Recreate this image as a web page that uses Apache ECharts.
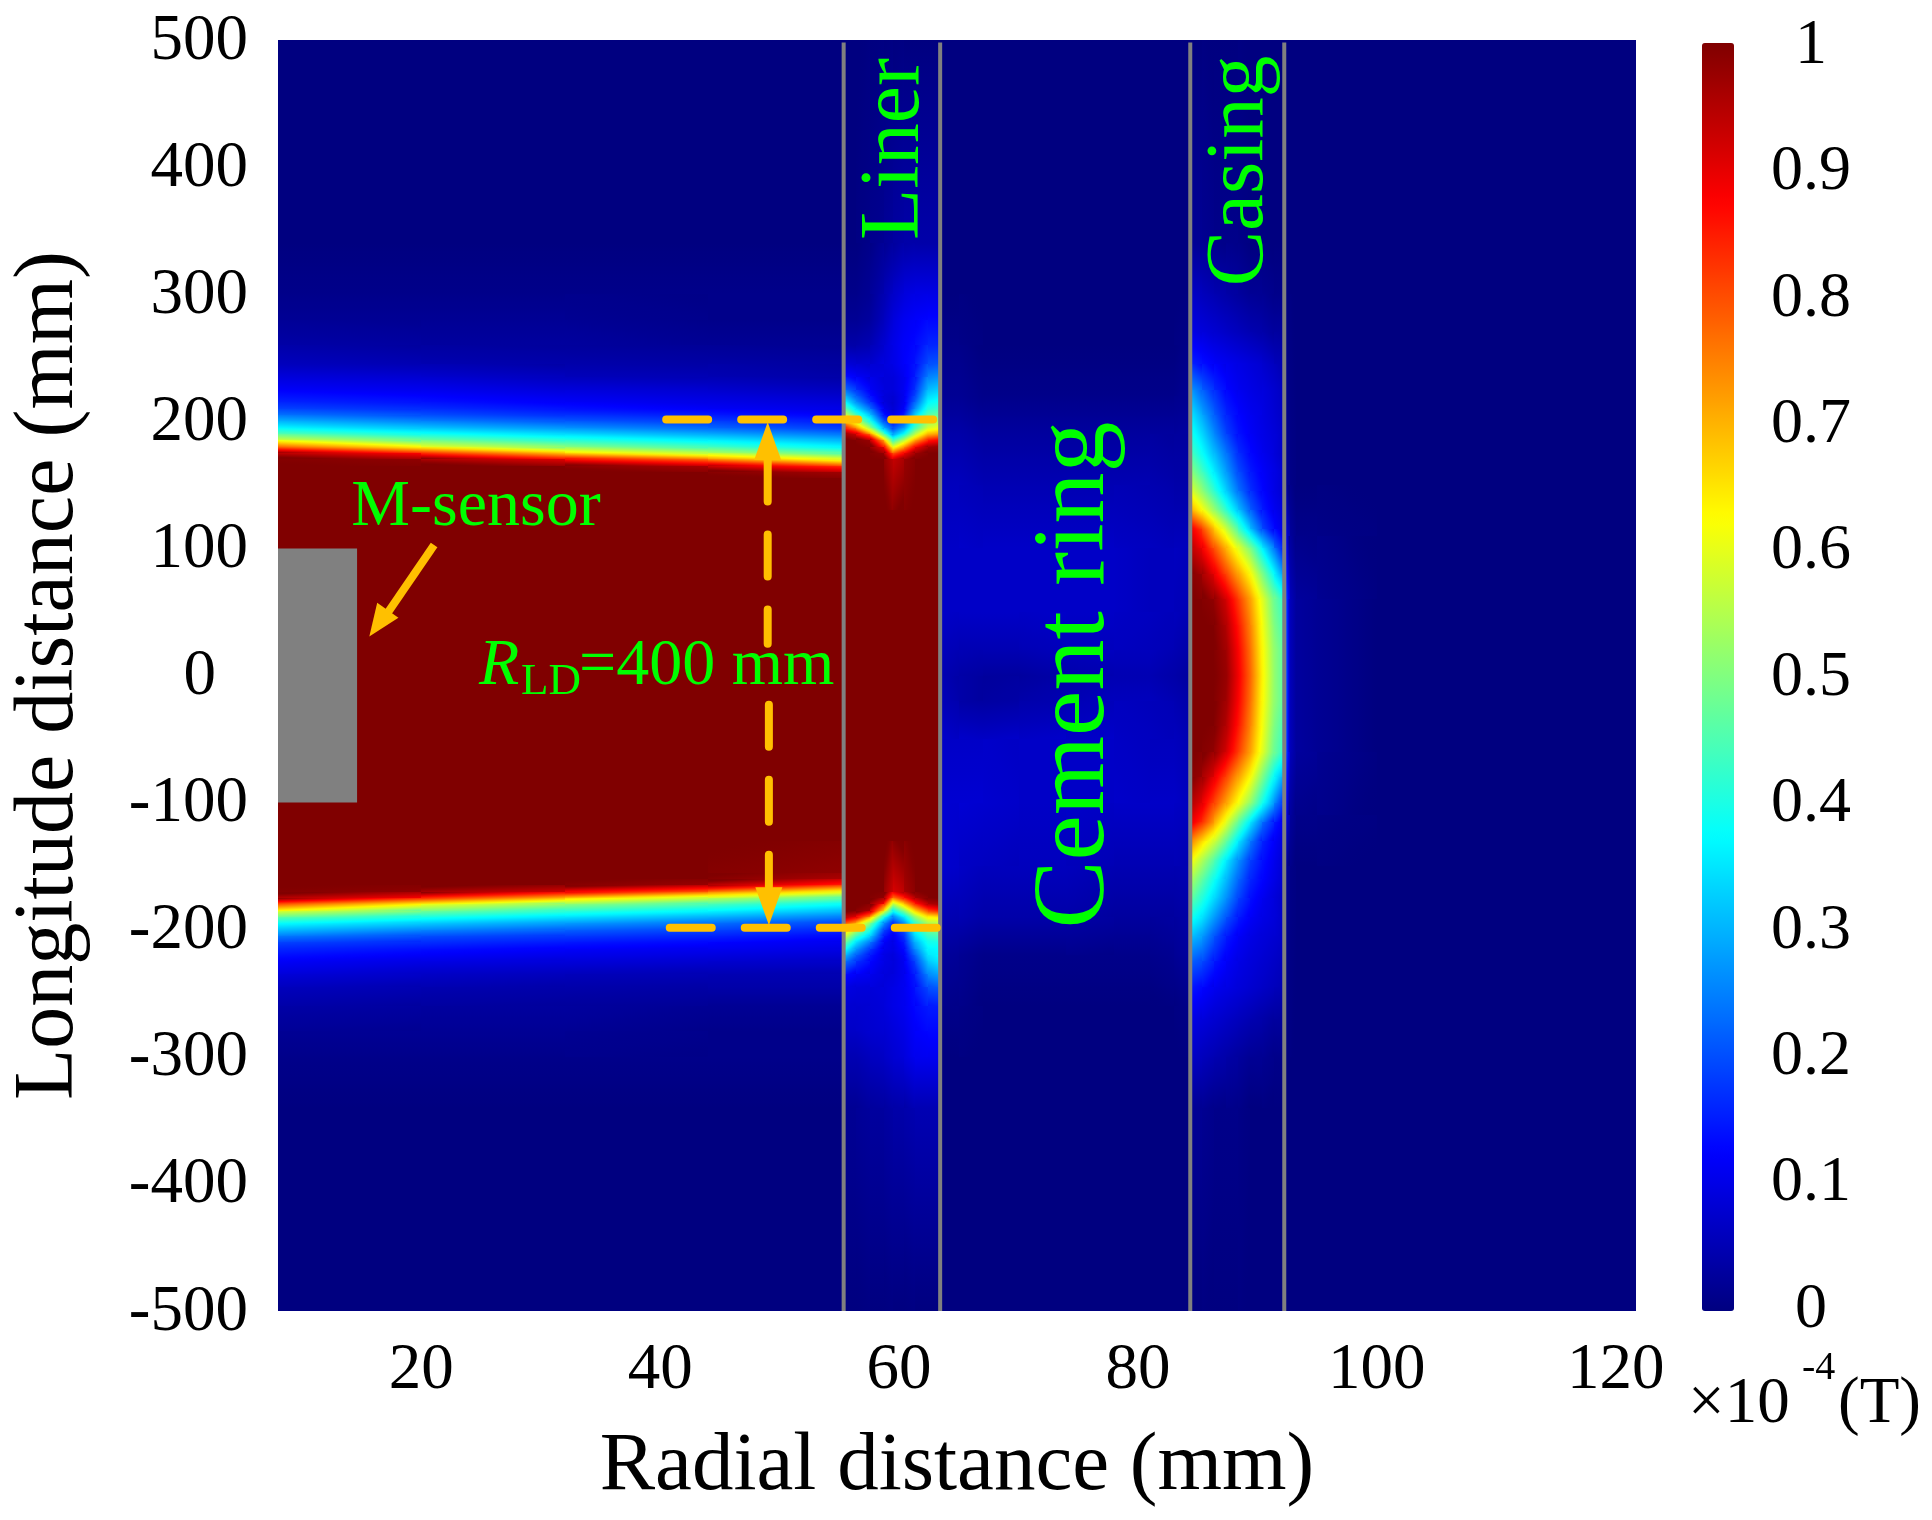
<!DOCTYPE html>
<html>
<head>
<meta charset="utf-8">
<title>Magnetic field</title>
<script src="https://cdn.jsdelivr.net/npm/echarts@6/dist/echarts.min.js"></script>
<style>
  html, body { margin: 0; padding: 0; background: #fff; }
  #chart { width: 1932px; height: 1520px; }
</style>
</head>
<body>
<div id="chart"></div>
<script>
// tick labels
const radialTicks = [20, 40, 60, 80, 100, 120];
const jet = ['#000080', '#0000ff', '#0080ff', '#00ffff', '#80ff80', '#ffff00', '#ff8000', '#ff0000', '#800000'];

// field values (percent of 1e-4 T), one table per material zone
const wellboreX = [8, 20, 32, 44, 55.36];
const wellboreY = [500, 340, 300, 280, 260, 245, 235, 225, 215, 210, 205, 200, 195, 190, 185, 180, 175, 170, 165, 160, 155, 130, -130, -155, -160, -165, -170, -175, -180, -185, -190, -195, -200, -205, -210, -215, -225, -235, -245, -260, -280, -300, -340, -500];
const wellboreField = [
  [0, 0, 0, 0, 0],
  [0, 0, 0, 0, 0],
  [1, 1, 1, 1, 1],
  [2, 2, 2, 1, 1],
  [4, 3, 3, 2, 2],
  [6, 5, 4, 4, 3],
  [9, 8, 6, 5, 4],
  [12, 11, 9, 8, 6],
  [16, 14, 12, 10, 9],
  [19, 17, 14, 12, 10],
  [24, 20, 17, 15, 12],
  [30, 25, 21, 18, 15],
  [37, 32, 27, 23, 18],
  [46, 39, 34, 29, 24],
  [58, 48, 41, 36, 30],
  [80, 61, 51, 44, 37],
  [96, 85, 66, 55, 46],
  [100, 98, 88, 74, 58],
  [100, 100, 100, 95, 80],
  [100, 100, 100, 100, 96],
  [100, 100, 100, 100, 100],
  [100, 100, 100, 100, 100],
  [100, 100, 100, 100, 100],
  [100, 100, 100, 100, 98],
  [100, 100, 100, 100, 95],
  [100, 100, 100, 97, 82],
  [100, 98, 90, 76, 60],
  [97, 86, 68, 56, 47],
  [82, 62, 52, 45, 38],
  [60, 49, 42, 37, 31],
  [47, 40, 35, 30, 25],
  [38, 33, 28, 24, 19],
  [31, 26, 22, 19, 16],
  [25, 20, 18, 16, 13],
  [19, 17, 15, 13, 11],
  [16, 14, 12, 11, 10],
  [12, 10, 9, 8, 7],
  [9, 7, 6, 5, 5],
  [6, 5, 4, 4, 4],
  [4, 3, 3, 2, 2],
  [2, 2, 2, 1, 1],
  [1, 1, 1, 1, 1],
  [0, 0, 0, 0, 0],
  [0, 0, 0, 0, 0]
];

const linerX = [55.36, 56.4, 57.6, 58.7, 59.5, 60.4, 61.3, 62.4, 63.44];
const linerY = [500, 340, 300, 280, 260, 245, 235, 225, 220, 215, 210, 205, 200, 195, 190, 185, 180, 175, 170, 130, -130, -170, -175, -180, -185, -190, -195, -200, -205, -210, -215, -220, -225, -235, -245, -260, -280, -300, -340, -500];
const linerField = [
  [0, 0, 0, 0, 0, 0, 0, 0, 0],
  [0, 0, 1, 2, 3, 4, 4, 4, 4],
  [1, 1, 2, 5, 7, 9, 10, 10, 10],
  [2, 2, 3, 6, 9, 11, 12, 13, 13],
  [4, 4, 5, 8, 10, 12, 13, 16, 16],
  [9, 8, 8, 9, 10, 12, 14, 20, 21],
  [14, 12, 10, 9, 9, 11, 15, 25, 27],
  [24, 18, 12, 9, 9, 11, 17, 31, 33],
  [31, 22, 14, 9, 8, 11, 19, 34, 36],
  [38, 27, 17, 9, 8, 11, 22, 37, 39],
  [48, 35, 24, 11, 8, 12, 27, 41, 43],
  [60, 44, 32, 14, 10, 15, 33, 46, 48],
  [72, 56, 40, 20, 14, 20, 38, 52, 54],
  [85, 75, 52, 30, 20, 28, 44, 58, 62],
  [98, 92, 75, 44, 28, 38, 55, 70, 72],
  [100, 100, 97, 68, 42, 55, 70, 84, 88],
  [100, 100, 100, 88, 60, 72, 88, 97, 98],
  [100, 100, 100, 98, 78, 88, 97, 100, 100],
  [100, 100, 100, 100, 92, 97, 100, 100, 100],
  [100, 100, 100, 100, 100, 100, 100, 100, 100],
  [100, 100, 100, 100, 100, 100, 100, 100, 100],
  [100, 100, 100, 100, 90, 95, 100, 100, 100],
  [100, 100, 100, 98, 75, 85, 95, 100, 100],
  [100, 100, 100, 85, 55, 68, 84, 95, 97],
  [100, 100, 95, 62, 37, 50, 66, 80, 85],
  [95, 90, 72, 38, 26, 35, 52, 64, 65],
  [82, 72, 50, 27, 17, 27, 42, 54, 56],
  [70, 55, 40, 19, 13, 20, 38, 48, 50],
  [60, 44, 33, 15, 11, 17, 34, 43, 45],
  [50, 35, 25, 12, 10, 15, 30, 39, 40],
  [40, 28, 18, 11, 10, 13, 26, 37, 37],
  [32, 22, 15, 10, 9, 12, 22, 35, 37],
  [25, 18, 13, 10, 9, 11, 19, 32, 36],
  [14, 12, 11, 9, 9, 11, 15, 26, 29],
  [10, 9, 9, 9, 10, 11, 14, 20, 22],
  [8, 8, 8, 9, 10, 11, 13, 15, 15],
  [7, 7, 8, 8, 9, 10, 12, 13, 13],
  [5, 5, 6, 7, 8, 9, 11, 11, 11],
  [2, 2, 3, 3, 4, 4, 5, 5, 5],
  [0, 0, 0, 0, 0, 0, 0, 0, 0]
];

const cementX = [63.44, 65, 67, 70, 74, 78, 81, 83, 84.38];
const cementY = [500, 300, 260, 220, 190, 150, 100, 50, 20, 0, -20, -50, -100, -150, -190, -220, -260, -300, -500];
const cementField = [
  [0, 0, 0, 0, 0, 0, 0, 0, 0],
  [0, 0, 0, 0, 0, 0, 0, 0, 0],
  [1, 1, 0, 0, 0, 0, 0, 0, 1],
  [2, 2, 1, 1, 1, 1, 1, 1, 2],
  [4, 4, 3, 3, 3, 3, 3, 3, 3],
  [6, 6, 5, 5, 5, 5, 5, 4, 4],
  [7, 7, 7, 7, 7, 7, 6, 6, 6],
  [7, 7, 7, 7, 7, 7, 6, 6, 5],
  [6, 5, 5, 5, 6, 6, 6, 5, 4],
  [5, 4, 3, 3, 4, 5, 5, 4, 3],
  [6, 4, 3, 4, 5, 6, 6, 5, 4],
  [7, 7, 7, 7, 7, 7, 6, 6, 5],
  [8, 8, 8, 7, 7, 7, 7, 7, 6],
  [8, 7, 6, 6, 6, 5, 5, 5, 5],
  [5, 5, 4, 4, 4, 3, 3, 3, 4],
  [3, 2, 1, 1, 1, 1, 1, 2, 3],
  [1, 1, 0, 0, 0, 0, 0, 0, 1],
  [0, 0, 0, 0, 0, 0, 0, 0, 0],
  [0, 0, 0, 0, 0, 0, 0, 0, 0]
];

const casingX = [84.38, 85.4, 86.4, 87.4, 88.4, 89.4, 90.4, 91.4, 92.25];
const casingY = [500, 340, 300, 270, 245, 225, 205, 190, 175, 160, 145, 130, 115, 100, 80, 60, 40, 20, 0, -20, -40, -60, -80, -100, -115, -130, -145, -160, -175, -190, -205, -225, -245, -270, -300, -340, -500];
const casingField = [
  [0, 0, 0, 0, 0, 0, 0, 0, 0],
  [2, 2, 1, 1, 1, 0, 0, 0, 0],
  [7, 6, 5, 4, 3, 2, 2, 1, 1],
  [10, 9, 8, 7, 6, 5, 4, 3, 3],
  [16, 14, 12, 11, 10, 9, 8, 6, 5],
  [28, 22, 17, 13, 11, 10, 9, 8, 6],
  [36, 29, 22, 16, 13, 11, 10, 8, 7],
  [40, 34, 26, 19, 14, 12, 10, 9, 7],
  [45, 38, 31, 24, 17, 13, 11, 9, 7],
  [52, 44, 36, 28, 20, 15, 12, 10, 8],
  [60, 52, 42, 33, 24, 17, 13, 10, 8],
  [72, 62, 53, 42, 32, 22, 15, 11, 9],
  [90, 82, 68, 58, 45, 32, 20, 13, 10],
  [95, 89, 80, 70, 60, 50, 37, 24, 14],
  [100, 97, 90, 81, 72, 63, 50, 38, 26],
  [100, 100, 98, 92, 82, 72, 60, 48, 42],
  [100, 100, 100, 95, 86, 75, 62, 50, 44],
  [100, 100, 100, 97, 88, 77, 63, 52, 46],
  [100, 100, 100, 98, 89, 78, 64, 52, 46],
  [100, 100, 100, 97, 88, 77, 63, 52, 46],
  [100, 100, 100, 95, 86, 75, 62, 50, 44],
  [100, 100, 98, 92, 82, 72, 60, 48, 42],
  [100, 97, 90, 81, 72, 63, 50, 38, 28],
  [96, 90, 81, 72, 62, 52, 40, 27, 16],
  [90, 84, 72, 60, 48, 36, 24, 15, 11],
  [76, 66, 58, 48, 36, 25, 16, 12, 9],
  [63, 55, 46, 36, 27, 19, 14, 11, 8],
  [55, 47, 39, 31, 23, 16, 13, 10, 8],
  [48, 41, 34, 27, 19, 14, 11, 9, 7],
  [40, 35, 28, 21, 15, 12, 10, 9, 7],
  [32, 28, 21, 15, 12, 10, 9, 8, 7],
  [22, 20, 15, 12, 10, 9, 8, 7, 6],
  [15, 13, 11, 10, 9, 8, 7, 6, 5],
  [10, 9, 8, 7, 6, 5, 4, 3, 3],
  [7, 6, 5, 4, 3, 2, 2, 1, 1],
  [2, 2, 1, 1, 1, 0, 0, 0, 0],
  [0, 0, 0, 0, 0, 0, 0, 0, 0]
];

const outerX = [92.25, 92.7, 93.2, 95, 100, 121.7];
const outerY = [500, 300, 150, 110, 60, 0, -60, -110, -150, -300, -500];
const outerField = [
  [0, 0, 0, 0, 0, 0],
  [0, 0, 0, 0, 0, 0],
  [3, 1, 0, 0, 0, 0],
  [14, 3, 1, 1, 0, 0],
  [28, 6, 3, 2, 0, 0],
  [30, 6, 3, 2, 0, 0],
  [28, 6, 3, 2, 0, 0],
  [14, 3, 1, 1, 0, 0],
  [3, 1, 0, 0, 0, 0],
  [0, 0, 0, 0, 0, 0],
  [0, 0, 0, 0, 0, 0]
];

// annotations, in axis units
const materialEdges = [55.36, 63.44, 84.38, 92.25];
const sensorBox = [8, 14.62, 100, -100];
const sliceLines = [[[40.5, 201.5], [63.5, 201.5]], [[40.8, -198.5], [63.8, -198.5]]];
const spanShafts = [[[49, 170], [49, 25]], [[49.1, -23], [49.1, -166]]];
const spanHeads = [[49, 184.5, 0], [49.1, -181.5, 180]];
const sensorArrow = [[21.07, 102.7], [16.8, 44]];
const sensorHead = [[16.42, 41, 144.7]];

const SERIF = '"Liberation Serif", "Times New Roman", serif';
const GREEN = '#00ff00';
const ORANGE = '#ffc000';

function zoneCells(xs, ys, field) {
  const cells = [];
  for (let j = 0; j < ys.length - 1; j++) {
    for (let i = 0; i < xs.length - 1; i++) {
      cells.push([xs[i], xs[i + 1], ys[j], ys[j + 1], field[j][i], field[j][i + 1], field[j + 1][i], field[j + 1][i + 1]]);
    }
  }
  return cells;
}

const heatCells = [].concat(
  zoneCells(wellboreX, wellboreY, wellboreField),
  zoneCells(linerX, linerY, linerField),
  zoneCells(cementX, cementY, cementField),
  zoneCells(casingX, casingY, casingField),
  zoneCells(outerX, outerY, outerField)
);

const fieldColor = v => echarts.color.lerp(Math.min(1, Math.max(0, v / 100)), jet);

// one rect per cell, shaded along the slope of its four corner values
function renderCell(params, api) {
  const a = api.value(4), b = api.value(5), c = api.value(6), d = api.value(7);
  const p0 = api.coord([api.value(0), api.value(2)]);
  const p1 = api.coord([api.value(1), api.value(3)]);
  const x = Math.round(p0[0]), y = Math.round(p0[1]);
  const w = Math.round(p1[0]) - x, h = Math.round(p1[1]) - y;
  if (w <= 0 || h <= 0) return null;
  const gx = (b - a + d - c) / 2 / w, gy = (c - a + d - b) / 2 / h;
  const slope = Math.hypot(gx, gy);
  const mean = (a + b + c + d) / 4;
  let fill = fieldColor(mean);
  if (slope > 1e-6) {
    const ux = gx / slope, uy = gy / slope;
    const reach = (Math.abs(ux) * w + Math.abs(uy) * h) / 2;
    const cx = x + w / 2, cy = y + h / 2;
    const stops = [];
    for (let k = 0; k <= 6; k++) {
      const t = k / 6;
      stops.push({ offset: t, color: fieldColor(mean + (2 * t - 1) * slope * reach) });
    }
    fill = new echarts.graphic.LinearGradient(cx - ux * reach, cy - uy * reach, cx + ux * reach, cy + uy * reach, stops, true);
  }
  return { type: 'rect', shape: { x, y, width: w, height: h }, style: { fill } };
}

function renderBox(params, api) {
  const p0 = api.coord([api.value(0), api.value(2)]);
  const p1 = api.coord([api.value(1), api.value(3)]);
  return { type: 'rect', shape: { x: p0[0], y: p0[1], width: p1[0] - p0[0], height: p1[1] - p0[1] }, style: { fill: '#808080' } };
}

function plainLine(data, color, width, dash) {
  return {
    type: 'line', data, symbol: 'none', silent: true, z: 5, animation: false,
    lineStyle: { color, width, type: dash ? [42, 33] : 'solid', cap: dash ? 'round' : 'butt' }
  };
}

function note(text, x, y, size, extra) {
  return Object.assign({
    type: 'text', x, y, z: 100, silent: true,
    style: Object.assign({ text, font: size + 'px ' + SERIF, fill: GREEN, align: 'center', verticalAlign: 'middle' }, extra && extra.style)
  }, extra && extra.el);
}

const chart = echarts.init(document.getElementById('chart'));
chart.setOption({
  animation: false,
  backgroundColor: '#fff',
  grid: [
    { left: 278, top: 40, width: 1358, height: 1271, outerBoundsMode: 'none' },
    { left: 1700, top: 46, width: 36, height: 1264, outerBoundsMode: 'none' }
  ],
  xAxis: [
    {
      type: 'value', min: 8, max: 121.7,
      name: 'Radial distance (mm)', nameLocation: 'middle', nameGap: 115,
      nameTextStyle: { fontFamily: SERIF, fontSize: 83, color: '#000' },
      axisLine: { show: false }, axisTick: { show: false }, splitLine: { show: false },
      axisLabel: { customValues: radialTicks, fontFamily: SERIF, fontSize: 65, color: '#000', margin: 27 }
    },
    { type: 'value', gridIndex: 1, min: 0, max: 1, show: false }
  ],
  yAxis: [
    {
      type: 'value', min: -500, max: 500, interval: 100,
      name: 'Longitude distance (mm)', nameLocation: 'middle', nameGap: 186,
      nameTextStyle: { fontFamily: SERIF, fontSize: 84, color: '#000' },
      axisLine: { show: false }, axisTick: { show: false }, splitLine: { show: false },
      axisLabel: {
        fontFamily: SERIF, fontSize: 65, color: '#000', margin: 30, padding: [3, 0, 0, 0],
        formatter: v => (v === 0 ? '{zero|0}' : String(v)),
        rich: { zero: { fontFamily: SERIF, fontSize: 65, color: '#000', padding: [0, 32, 0, 0] } }
      }
    },
    {
      type: 'value', gridIndex: 1, min: 0, max: 1, interval: 0.1, position: 'right',
      axisLine: { show: false }, axisTick: { show: false }, splitLine: { show: false },
      axisLabel: { fontFamily: SERIF, fontSize: 64, color: '#000', margin: 75, align: 'center' }
    }
  ],
  visualMap: {
    type: 'continuous', min: 0, max: 100, seriesIndex: 0, dimension: 4,
    left: 1702, top: 43, itemWidth: 32, itemHeight: 1268, padding: 0,
    hoverLink: false, calculable: false, text: [],
    inRange: { color: jet }
  },
  graphic: { elements: [
    note('Liner', 896, 149, 84, { el: { rotation: Math.PI / 2 } }),
    note('Casing', 1240, 171, 83, { el: { rotation: Math.PI / 2 } }),
    note('Cement ring', 1076, 675, 102, { el: { rotation: Math.PI / 2 } }),
    note('M-sensor', 476, 508, 66),
    note('R', 479, 667, 66, { style: { align: 'left', font: 'italic 66px ' + SERIF } }),
    note('LD', 521, 682, 45, { style: { align: 'left' } }),
    note('=400 mm', 579, 667, 66, { style: { align: 'left' } }),
    note('\u00d710', 1688, 1405, 65, { style: { align: 'left', fill: '#000' } }),
    note('-4', 1802, 1368, 40, { style: { align: 'left', fill: '#000' } }),
    note('(T)', 1838, 1405, 65, { style: { align: 'left', fill: '#000' } })
  ] },
  series: [
    {
      type: 'custom', data: heatCells, renderItem: renderCell, silent: true, progressive: 0, z: 1, clip: true,
      encode: { x: [0, 1], y: [2, 3] }
    },
    {
      type: 'custom', data: [sensorBox], renderItem: renderBox, silent: true, z: 3,
      encode: { x: [0, 1], y: [2, 3] }
    }
  ].concat(
    materialEdges.map(x => Object.assign(plainLine([[x, 498], [x, -500]], '#808080', 4, false), { z: 4 })),
    sliceLines.map(d => plainLine(d, ORANGE, 8, true)),
    spanShafts.map(d => plainLine(d, ORANGE, 8, true)),
    [plainLine(sensorArrow, ORANGE, 8, false)],
    [{
      type: 'scatter', silent: true, z: 6, data: spanHeads, symbol: 'triangle', symbolSize: [27, 38],
      symbolRotate: v => v[2], itemStyle: { color: ORANGE, opacity: 1 }
    }, {
      type: 'scatter', silent: true, z: 6, data: sensorHead, symbol: 'triangle', symbolSize: [26, 32],
      symbolRotate: v => v[2], itemStyle: { color: ORANGE, opacity: 1 }
    }]
  )
});
</script>
</body>
</html>
